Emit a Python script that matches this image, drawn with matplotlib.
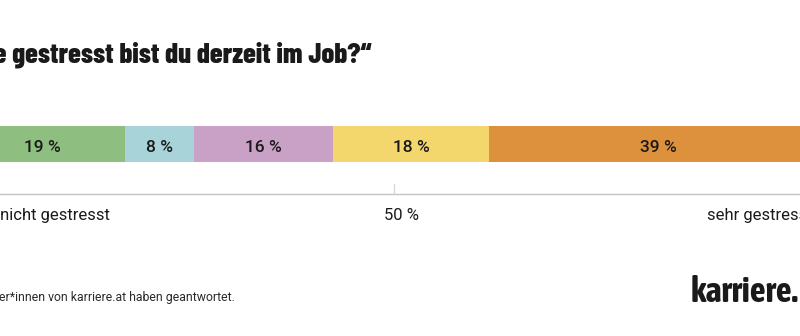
import numpy as np
import matplotlib.pyplot as plt

# data
shares = [19, 8, 16, 18, 39]
colors = ['#8fbf80', '#a8d4d9', '#c9a0c6', '#f3d66c', '#de913c']
ticks = [50]
tick_labels = ['50 %']
end_labels = ['gar nicht gestresst', 'sehr gestresst']
title = '„Wie gestresst bist du derzeit im Job?“'
note = '1.000 User*innen von karriere.at haben geantwortet.'

W, H = 800, 336
fig = plt.figure(figsize=(W / 100, H / 100), dpi=100)
ax = fig.add_axes([0, 0, 1, 1])

px_per_pct = 8.674
x0 = -39.8  # pixel position of 0 %
ax.set_xlim(-x0 / px_per_pct, (W - x0) / px_per_pct)
ax.set_ylim(H, 0)
ax.axis('off')

body = 'Roboto'
ink = '#1a1a1a'

lefts = np.concatenate([[0], np.cumsum(shares)[:-1]])
ax.barh(144, shares, left=lefts, height=36, color=colors, edgecolor='none')
for l, s in zip(lefts, shares):
    ax.text(l + s / 2, 152.5, f'{s} %', ha='center', va='baseline',
            fontsize=12.5, family=body, weight='medium', color=ink)

# axis line and ticks
ax.plot([0, 100], [194, 194], color='#c4c4c4', lw=1)
for t, lab in zip(ticks, tick_labels):
    ax.plot([t, t], [184, 194], color='#d8d8d8', lw=1)
    ax.text(t + 0.9, 220, lab, ha='center', va='baseline', fontsize=12, family=body, color=ink)

# end labels: visible edges matched in pixels
fig.text(110 / W, 1 - 220 / H, end_labels[0], ha='right', va='baseline', fontsize=12,
         family=body, color=ink)
fig.text(707 / W, 1 - 220 / H, end_labels[1], ha='left', va='baseline', fontsize=12,
         family=body, color=ink)

fig.text(372 / W, 1 - 63 / H, title, ha='right', va='baseline', fontsize=20.6,
         family='Barlow Condensed', weight=800, color=ink)
fig.text(235 / W, 1 - 301 / H, note, ha='right', va='baseline', fontsize=8.8,
         family=body, color='#2a2a2a')
fig.text(798 / W, 1 - 302 / H, 'karriere.', ha='right', va='baseline', fontsize=25,
         family='Asap Condensed', weight=700, color=ink)

fig.savefig('out.png', dpi=100)
